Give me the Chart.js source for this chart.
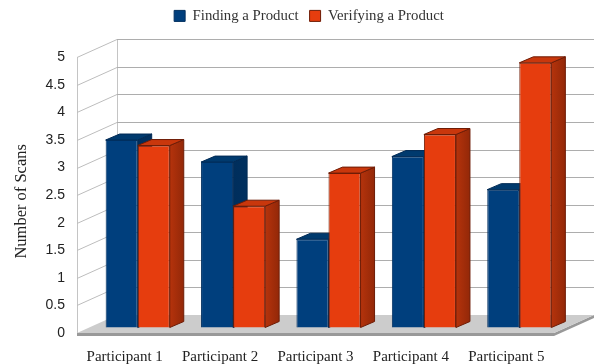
<!DOCTYPE html>
<html>
<head>
<meta charset="utf-8">
<title>Number of Scans</title>
<script src="https://cdn.jsdelivr.net/npm/chart.js@4/dist/chart.umd.js"></script>
<style>
  html, body { margin: 0; padding: 0; background: #fff; }
  canvas { display: block; }
</style>
</head>
<body>
<canvas id="myChart" width="594" height="364"></canvas>
<script>
const categories = ["Participant 1", "Participant 2", "Participant 3", "Participant 4", "Participant 5"];
const findingValues = [3.4, 3.0, 1.6, 3.1, 2.5];
const verifyingValues = [3.3, 2.2, 2.8, 3.5, 4.8];
const yTicks = [0, 0.5, 1, 1.5, 2, 2.5, 3, 3.5, 4, 4.5, 5];

const serifFont = '"Liberation Serif", serif';
const sansFont = '"Liberation Sans", sans-serif';

// shifts of the 3D box, in pixels
const WALL_DX = 40, WALL_DY = -18;
const BAR_DX = 13, BAR_DY = -5.5;
const BAR_DEPTH_X = 14, BAR_DEPTH_Y = -6;

const faces = [
  { top: '#003a6e', side: ['#002e5c', '#00305f'], edge: '#002a55' },
  { top: '#c9370c', side: ['#b5330c', '#932808'], edge: '#6e1c06' }
];

function line(ctx, x1, y1, x2, y2, color, width) {
  ctx.strokeStyle = color;
  ctx.lineWidth = width;
  ctx.beginPath();
  ctx.moveTo(x1, y1);
  ctx.lineTo(x2, y2);
  ctx.stroke();
}

function poly(ctx, pts, fill, stroke) {
  ctx.beginPath();
  pts.forEach((p, i) => i ? ctx.lineTo(p[0], p[1]) : ctx.moveTo(p[0], p[1]));
  ctx.closePath();
  ctx.fillStyle = fill;
  ctx.fill();
  if (stroke) {
    ctx.strokeStyle = stroke;
    ctx.lineWidth = 1;
    ctx.stroke();
  }
}

// back wall, side wall and floor
const boxPlugin = {
  id: 'box',
  beforeDatasetsDraw(chart) {
    const { ctx, scales: { x, y } } = chart;
    const left = x.left, right = x.right, y0 = y.getPixelForValue(0), y5 = y.getPixelForValue(5);
    ctx.save();
    line(ctx, left + 0.5, y5, left + 0.5, y0, '#c4c4c4', 1);
    line(ctx, left + WALL_DX + 0.5, y5 + WALL_DY, left + WALL_DX + 0.5, y0 + WALL_DY, '#c4c4c4', 1);
    yTicks.forEach(v => {
      if (v === 0) return;
      const py = Math.round(y.getPixelForValue(v)) + 0.5;
      line(ctx, left, py, left + WALL_DX, py + WALL_DY, '#bdbdbd', 1);
      line(ctx, left + WALL_DX, py + WALL_DY, right + WALL_DX, py + WALL_DY, '#adadad', 1);
    });
    poly(ctx, [[left, y0], [right, y0], [right + WALL_DX, y0 + WALL_DY], [right + WALL_DX, y0 + WALL_DY + 3], [right, y0 + 3], [left, y0 + 3]], '#999999');
    poly(ctx, [[left, y0], [right, y0], [right + WALL_DX, y0 + WALL_DY], [left + WALL_DX, y0 + WALL_DY]], '#cccccc');
    ctx.restore();
  },
  // the library's bars are drawn below, together with their side and top faces
  beforeDatasetDraw() {
    return false;
  },
  afterDatasetsDraw(chart) {
    const { ctx } = chart;
    ctx.save();
    ctx.translate(BAR_DX, BAR_DY);
    chart.data.datasets.forEach((ds, di) => {
      const face = faces[di];
      chart.getDatasetMeta(di).data.forEach(bar => {
        const l = bar.x - bar.width / 2, r = bar.x + bar.width / 2, t = bar.y, b = bar.base;
        const grad = ctx.createLinearGradient(r, 0, r + BAR_DEPTH_X, 0);
        grad.addColorStop(0, face.side[0]);
        grad.addColorStop(1, face.side[1]);
        poly(ctx, [[r, t], [r + BAR_DEPTH_X, t + BAR_DEPTH_Y], [r + BAR_DEPTH_X, b + BAR_DEPTH_Y], [r, b]], grad, face.edge);
        poly(ctx, [[l, t], [l + BAR_DEPTH_X, t + BAR_DEPTH_Y], [r + BAR_DEPTH_X, t + BAR_DEPTH_Y], [r, t]], face.top, face.edge);
        bar.draw(ctx);
      });
    });
    ctx.restore();
  },
  // legend sits above the usual spot and a bit right of the plot centre
  afterLayout(chart) {
    chart.legend.left += 32;
    chart.legend.right += 32;
    chart.legend.top -= 24;
    chart.legend.bottom -= 24;
  }
};

const data = {
  labels: categories,
  datasets: [
    {
      label: 'Finding a Product',
      data: findingValues,
      backgroundColor: '#003f7d',
      borderColor: '#002f5f',
      borderWidth: 1,
      categoryPercentage: 0.672,
      barPercentage: 1
    },
    {
      label: 'Verifying a Product',
      data: verifyingValues,
      backgroundColor: '#e63d0e',
      borderColor: '#6e1c06',
      borderWidth: 1,
      categoryPercentage: 0.672,
      barPercentage: 1
    }
  ]
};

new Chart(document.getElementById('myChart'), {
  type: 'bar',
  data: data,
  plugins: [boxPlugin],
  options: {
    responsive: false,
    animation: false,
    layout: { padding: { left: 0, right: 40, top: 21.5, bottom: 0 } },
    plugins: {
      tooltip: { enabled: false },
      legend: {
        position: 'top',
        labels: {
          boxWidth: 11,
          boxHeight: 11,
          padding: 11,
          color: '#333333',
          font: { family: serifFont, size: 14.8 }
        }
      }
    },
    scales: {
      x: {
        grid: { display: false, drawTicks: false },
        border: { display: false },
        afterFit(scale) { scale.height = 31; },
        ticks: { color: '#222222', maxRotation: 0, padding: 15, font: { family: serifFont, size: 15 } }
      },
      y: {
        min: 0,
        max: 5,
        afterBuildTicks(scale) { scale.ticks = yTicks.map(v => ({ value: v })); },
        afterFit(scale) { scale.width = 77; },
        grid: { display: false, drawTicks: false },
        border: { display: false },
        // trailing spaces push the centred title a little down the axis
        title: { display: true, text: 'Number of Scans   ', color: '#222222', padding: { top: 12, bottom: 0 }, font: { family: serifFont, size: 16.5 } },
        ticks: { color: '#222222', padding: 12, font: { family: sansFont, size: 14 }, callback: v => String(v) }
      }
    }
  }
});
</script>
</body>
</html>
